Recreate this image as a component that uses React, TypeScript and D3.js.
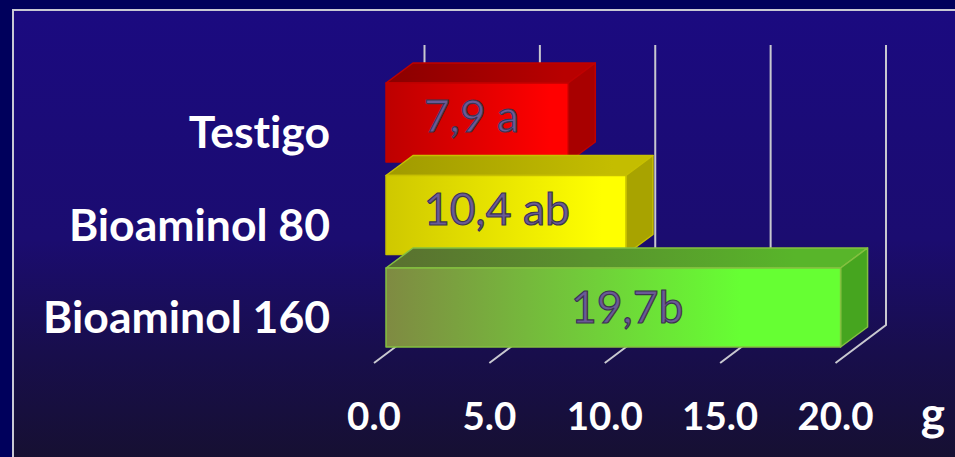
import React from 'react';
import * as d3 from 'd3';

const width = 955;
const height = 457;

// chart data
const categories = ['Testigo', 'Bioaminol 80', 'Bioaminol 160'];
const values = [7.9, 10.4, 19.7];
const valueLabels = ['7,9 a', '10,4 ab', '19,7b'];
const ticks = [0, 5, 10, 15, 20];
const tickLabels = ['0.0', '5.0', '10.0', '15.0', '20.0'];
const unitLabel = 'g';

const palette = [
  { start: '#bd0000', end: '#ff0000', stop: 0.9, top: '#b80000', topDark: '#8a0000', side: '#a80000', line: '#c00000' },
  { start: '#cfc800', end: '#ffff00', stop: 0.9, top: '#c4bd00', topDark: '#a09a00', side: '#a8a300', line: '#c8c000' },
  { start: '#7f8a42', end: '#66ff33', stop: 0.78, top: '#58b52a', topDark: '#5a7030', side: '#46a51f', line: '#84c040' },
];

// front plane of the 3d box
const x = d3.scaleLinear().domain([0, 20]).range([386, 847.5]);
const y = d3.scaleBand().domain(categories).range([83, 347]).paddingInner(0.146);

const depthX = 27;
const depthY = 20;
const floorFront = 363;
const floorBack = 325;
const wallTop = 45;
const tickBack = 38.5; // x offset of back wall from bar front
const tickFront = -12;

export default function App() {
  return (
    <svg width={width} height={height} style={{ position: 'fixed', left: 0, top: 0, display: 'block' }}>
      <defs>
        <linearGradient id="bg" x1="0" y1="0" x2="0" y2="1">
          <stop offset="0" stopColor="#1b0a80" />
          <stop offset="0.5" stopColor="#1b0c70" />
          <stop offset="0.75" stopColor="#180e4c" />
          <stop offset="1" stopColor="#161030" />
        </linearGradient>
        {palette.map((p, i) => (
          <React.Fragment key={i}>
            <linearGradient id={`front${i}`} x1="0" y1="0" x2="1" y2="0">
              <stop offset="0" stopColor={p.start} />
              <stop offset={p.stop} stopColor={p.end} />
              <stop offset="1" stopColor={p.end} />
            </linearGradient>
            <linearGradient id={`top${i}`} x1="0" y1="0" x2="1" y2="0">
              <stop offset="0" stopColor={p.topDark} />
              <stop offset="0.85" stopColor={p.top} />
            </linearGradient>
          </React.Fragment>
        ))}
      </defs>

      <rect width={width} height={height} fill="#00005c" />
      <rect x={13} y={10} width={width} height={height} fill="url(#bg)" stroke="#c8c8d4" strokeWidth={2} />

      {/* walls and floor ticks */}
      <g fill="none" stroke="#c8c8d0" strokeWidth={2}>
        {ticks.map(t => (
          <path
            key={t}
            d={d3.line()([
              [x(t) + tickFront, floorFront],
              [x(t) + tickBack, floorBack],
              [x(t) + tickBack, wallTop],
            ]) || ''}
          />
        ))}
      </g>

      {/* bars, back to front */}
      {categories.map((c, i) => {
        const x0 = x(0);
        const x1 = x(values[i]);
        const y0 = y(c) as number;
        const y1 = y0 + y.bandwidth();
        const p = palette[i];
        const poly = d3.line();
        return (
          <g key={c} strokeWidth={1.5} stroke={p.line} strokeLinejoin="round">
            <path
              d={poly([[x0, y0], [x0 + depthX, y0 - depthY], [x1 + depthX, y0 - depthY], [x1, y0]]) + 'Z'}
              fill={`url(#top${i})`}
            />
            <path
              d={poly([[x1, y0], [x1 + depthX, y0 - depthY], [x1 + depthX, y1 - depthY], [x1, y1]]) + 'Z'}
              fill={p.side}
            />
            <rect x={x0} y={y0} width={x1 - x0} height={y1 - y0} fill={`url(#front${i})`} />
          </g>
        );
      })}

      {/* value labels */}
      <g fontFamily="Lato" fontSize={44.5} fill="#6a5a96" stroke="#3c3450" strokeWidth={1.2} style={{ fontVariantLigatures: 'none' }}>
        {categories.map((c, i) => (
          <text
            key={c}
            x={i === 2 ? 571 : 424}
            y={(y(c) as number) + (i === 2 ? 55 : 49)}
          >
            {valueLabels[i]}
          </text>
        ))}
      </g>

      {/* category labels */}
      <g fontFamily="Lato" fontWeight={700} fontSize={44.5} fill="#ffffff" textAnchor="end" style={{ fontVariantLigatures: 'none' }}>
        {categories.map(c => (
          <text key={c} x={330} y={(y(c) as number) + 65}>
            {c}
          </text>
        ))}
      </g>

      {/* x axis labels */}
      <g fontFamily="Lato" fontWeight={700} fontSize={38.5} fill="#ffffff" textAnchor="middle">
        {ticks.map((t, i) => (
          <text key={t} x={x(t) - 12} y={430}>
            {tickLabels[i]}
          </text>
        ))}
        <text x={933} y={430} fontSize={46}>{unitLabel}</text>
      </g>
    </svg>
  );
}
